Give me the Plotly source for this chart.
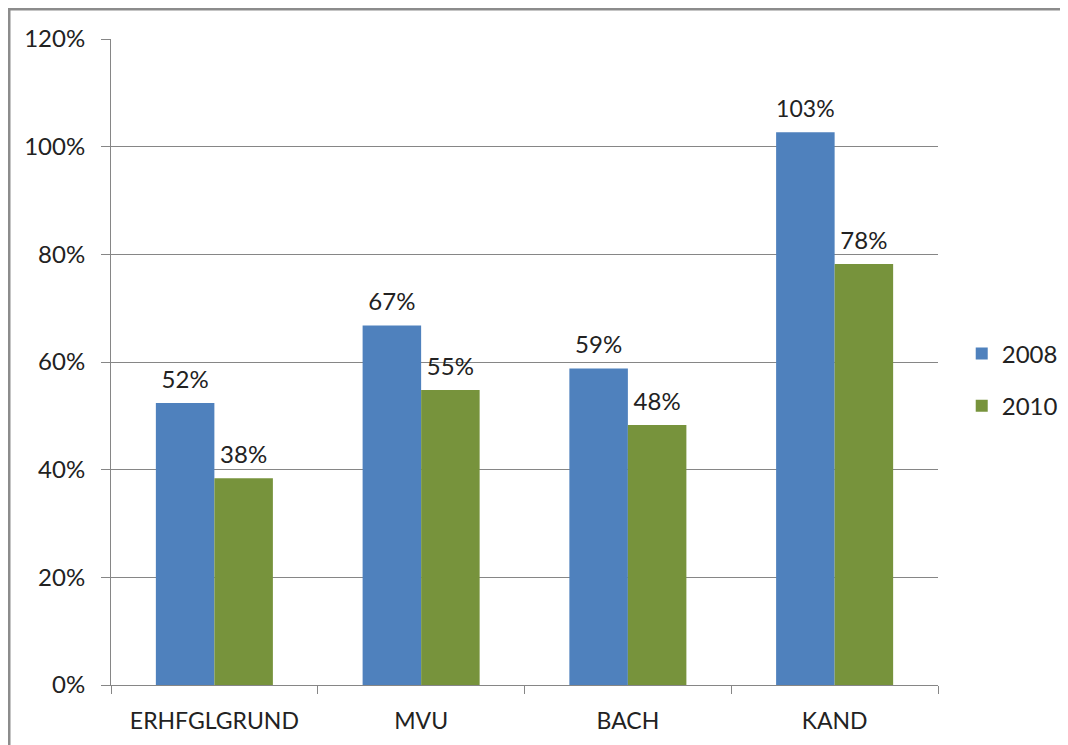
import plotly.graph_objects as go

categories = ["ERHFGLGRUND", "MVU", "BACH", "KAND"]
series_names = ["2008", "2010"]
values_2008 = [0.524, 0.668, 0.588, 1.027]
values_2010 = [0.384, 0.548, 0.483, 0.782]
y_ticks = [0, 0.2, 0.4, 0.6, 0.8, 1.0, 1.2]
colors = ["#4F81BD", "#77933C"]

FONT = "Lato, 'Open Sans', sans-serif"
FS = 24

fig = go.Figure()
for name, vals, col in zip(series_names, [values_2008, values_2010], colors):
    fig.add_trace(go.Bar(
        x=categories, y=vals, name=name, marker_color=col,
        marker_line_width=0,
        texttemplate="<span style='font-size:24px'>%{y:.0%}</span><br> ",
        textposition="outside",
        textfont=dict(family=FONT, size=8, color="#222"),
        cliponaxis=False, legendgroup=name,
    ))

OFF = 8  # browser body margin
L, R, T, B = 111 - OFF, 938 - OFF, 39 - OFF, 685 - OFF
W, H = 1068, 745
pw, ph = R - L, B - T

fig.update_layout(
    width=W, height=H,
    margin=dict(l=L, r=W - R, t=T, b=H - B),
    paper_bgcolor="white", plot_bgcolor="white",
    barmode="group", bargap=0.434, bargroupgap=0,
    font=dict(family=FONT, size=FS, color="#222"),
    legend=dict(xref="container", yref="container",
                x=0.893, xanchor="left", y=(H - 380 + OFF) / H, yanchor="middle",
                font=dict(family=FONT, size=FS, color="#222"),
                tracegroupgap=18, itemwidth=30),
    showlegend=True,
)
fig.update_xaxes(
    showline=True, linecolor="#868686", linewidth=1,
    ticks="outside", tickson="boundaries", ticklen=8, tickcolor="#868686",
    showgrid=False, ticklabelstandoff=15,
    tickfont=dict(family=FONT, size=FS - 1, color="#222"),
)
fig.update_yaxes(
    range=[0, 1.2], tickvals=y_ticks, tickformat=".0%",
    showline=True, linecolor="#868686", linewidth=1,
    ticks="outside", ticklen=9, tickcolor="#868686",
    showgrid=True, gridcolor="#868686", gridwidth=1,
    zeroline=False, ticklabelstandoff=11,
    tickfont=dict(family=FONT, size=FS, color="#222"),
)
# outer chart border
fig.add_shape(type="rect", xref="paper", yref="paper",
              x0=(9 - OFF - L) / pw, x1=(W + 20 - L) / pw,
              y0=(B - (H + 20)) / ph, y1=(B - (9 - OFF)) / ph,
              line=dict(color="#8c8c8c", width=3), layer="above")

fig.write_html("out.html")
